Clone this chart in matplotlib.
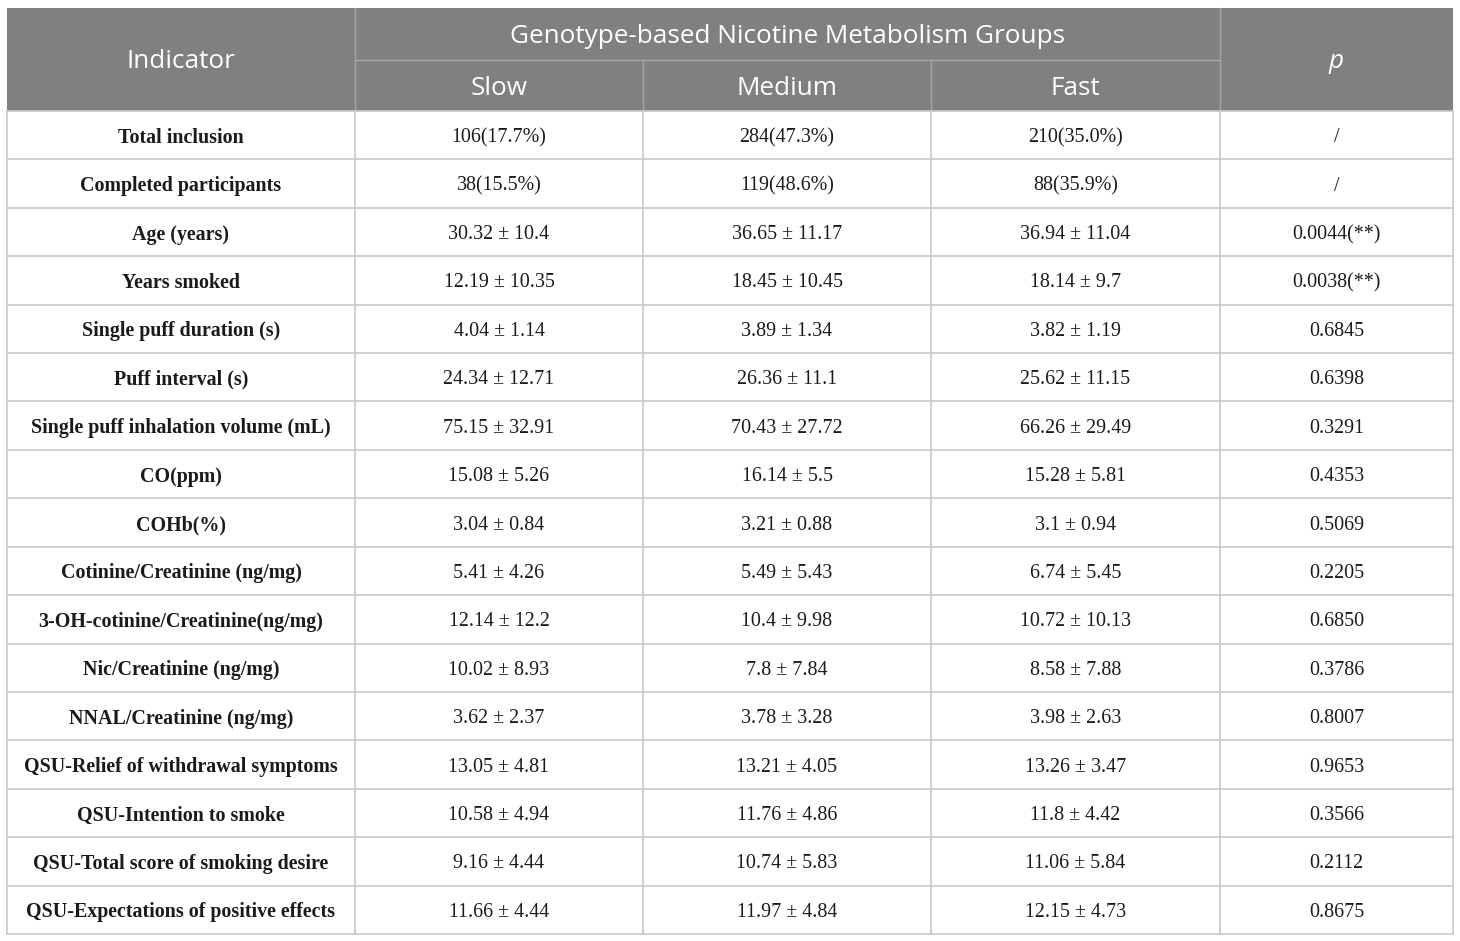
import matplotlib
matplotlib.use("Agg")
import matplotlib.pyplot as plt
from matplotlib.patches import Rectangle

indicators = [
    "Total inclusion", "Completed participants", "Age (years)", "Years smoked",
    "Single puff duration (s)", "Puff interval (s)", "Single puff inhalation volume (mL)",
    "CO(ppm)", "COHb(%)", "Cotinine/Creatinine (ng/mg)", "3-OH-cotinine/Creatinine(ng/mg)",
    "Nic/Creatinine (ng/mg)", "NNAL/Creatinine (ng/mg)", "QSU-Relief of withdrawal symptoms",
    "QSU-Intention to smoke", "QSU-Total score of smoking desire", "QSU-Expectations of positive effects",
]
slow = ["106(17.7%)", "38(15.5%)", "30.32 ± 10.4", "12.19 ± 10.35", "4.04 ± 1.14",
        "24.34 ± 12.71", "75.15 ± 32.91", "15.08 ± 5.26", "3.04 ± 0.84", "5.41 ± 4.26",
        "12.14 ± 12.2", "10.02 ± 8.93", "3.62 ± 2.37", "13.05 ± 4.81", "10.58 ± 4.94",
        "9.16 ± 4.44", "11.66 ± 4.44"]
medium = ["284(47.3%)", "119(48.6%)", "36.65 ± 11.17", "18.45 ± 10.45", "3.89 ± 1.34",
          "26.36 ± 11.1", "70.43 ± 27.72", "16.14 ± 5.5", "3.21 ± 0.88", "5.49 ± 5.43",
          "10.4 ± 9.98", "7.8 ± 7.84", "3.78 ± 3.28", "13.21 ± 4.05", "11.76 ± 4.86",
          "10.74 ± 5.83", "11.97 ± 4.84"]
fast = ["210(35.0%)", "88(35.9%)", "36.94 ± 11.04", "18.14 ± 9.7", "3.82 ± 1.19",
        "25.62 ± 11.15", "66.26 ± 29.49", "15.28 ± 5.81", "3.1 ± 0.94", "6.74 ± 5.45",
        "10.72 ± 10.13", "8.58 ± 7.88", "3.98 ± 2.63", "13.26 ± 3.47", "11.8 ± 4.42",
        "11.06 ± 5.84", "12.15 ± 4.73"]
pvals = ["/", "/", "0.0044(**)", "0.0038(**)", "0.6845", "0.6398", "0.3291", "0.4353",
         "0.5069", "0.2205", "0.6850", "0.3786", "0.8007", "0.9653", "0.3566", "0.2112", "0.8675"]
group_title = "Genotype-based Nicotine Metabolism Groups"
group_names = ["Slow", "Medium", "Fast"]

W, H = 1460, 941
fig = plt.figure(figsize=(W / 100, H / 100), dpi=100)
ax = fig.add_axes([0, 0, 1, 1])
ax.set_xlim(0, W)
ax.set_ylim(H, 0)
ax.axis("off")

cols = [7, 355, 643, 931, 1220, 1453]
top, hmid, hbot, bottom = 8, 60, 111, 934
n = len(indicators)
rh = (bottom - hbot) / n

hdr = "#808080"
grid = "#c8c8c8"
ax.add_patch(Rectangle((cols[0], top), cols[-1] - cols[0], hbot - top, color=hdr, lw=0))
hline = "#a6a6a6"
for x in cols[1:-1]:
    y0 = top if x in (cols[1], cols[4]) else hmid
    ax.plot([x, x], [y0, hbot], color=hline, lw=1)
ax.plot([cols[1], cols[4]], [hmid, hmid], color=hline, lw=1)

hfont = dict(family=["Open Sans", "DejaVu Sans"], color="white", fontsize=18.8)
ax.text((cols[0] + cols[1]) / 2, (top + hbot) / 2 + 2, "Indicator", ha="center", va="center", **hfont)
ax.text((cols[1] + cols[4]) / 2, (top + hmid) / 2 + 2, group_title, ha="center", va="center", **hfont)
for i, g in enumerate(group_names):
    ax.text((cols[i + 1] + cols[i + 2]) / 2, (hmid + hbot) / 2 + 3, g, ha="center", va="center", **hfont)
ax.text((cols[4] + cols[5]) / 2, (top + hbot) / 2 + 2, "p", ha="center", va="center",
        style="italic", **hfont)

for i in range(n + 1):
    y = hbot + i * rh
    ax.plot([cols[0], cols[-1]], [y, y], color=grid, lw=1.2)
for x in cols:
    ax.plot([x, x], [hbot, bottom], color=grid, lw=1.2)

bfont = dict(family=["Liberation Serif", "DejaVu Serif"], color="#1a1a1a", fontsize=14.4)
for r in range(n):
    yc = hbot + (r + 0.5) * rh + 2.5
    ax.text((cols[0] + cols[1]) / 2, yc, indicators[r], ha="center", va="center",
            fontweight="bold", **bfont)
    for j, vals in enumerate([slow, medium, fast, pvals]):
        ax.text((cols[j + 1] + cols[j + 2]) / 2, yc, vals[r], ha="center", va="center", **bfont)

fig.savefig("out.png", dpi=100, facecolor="white")
